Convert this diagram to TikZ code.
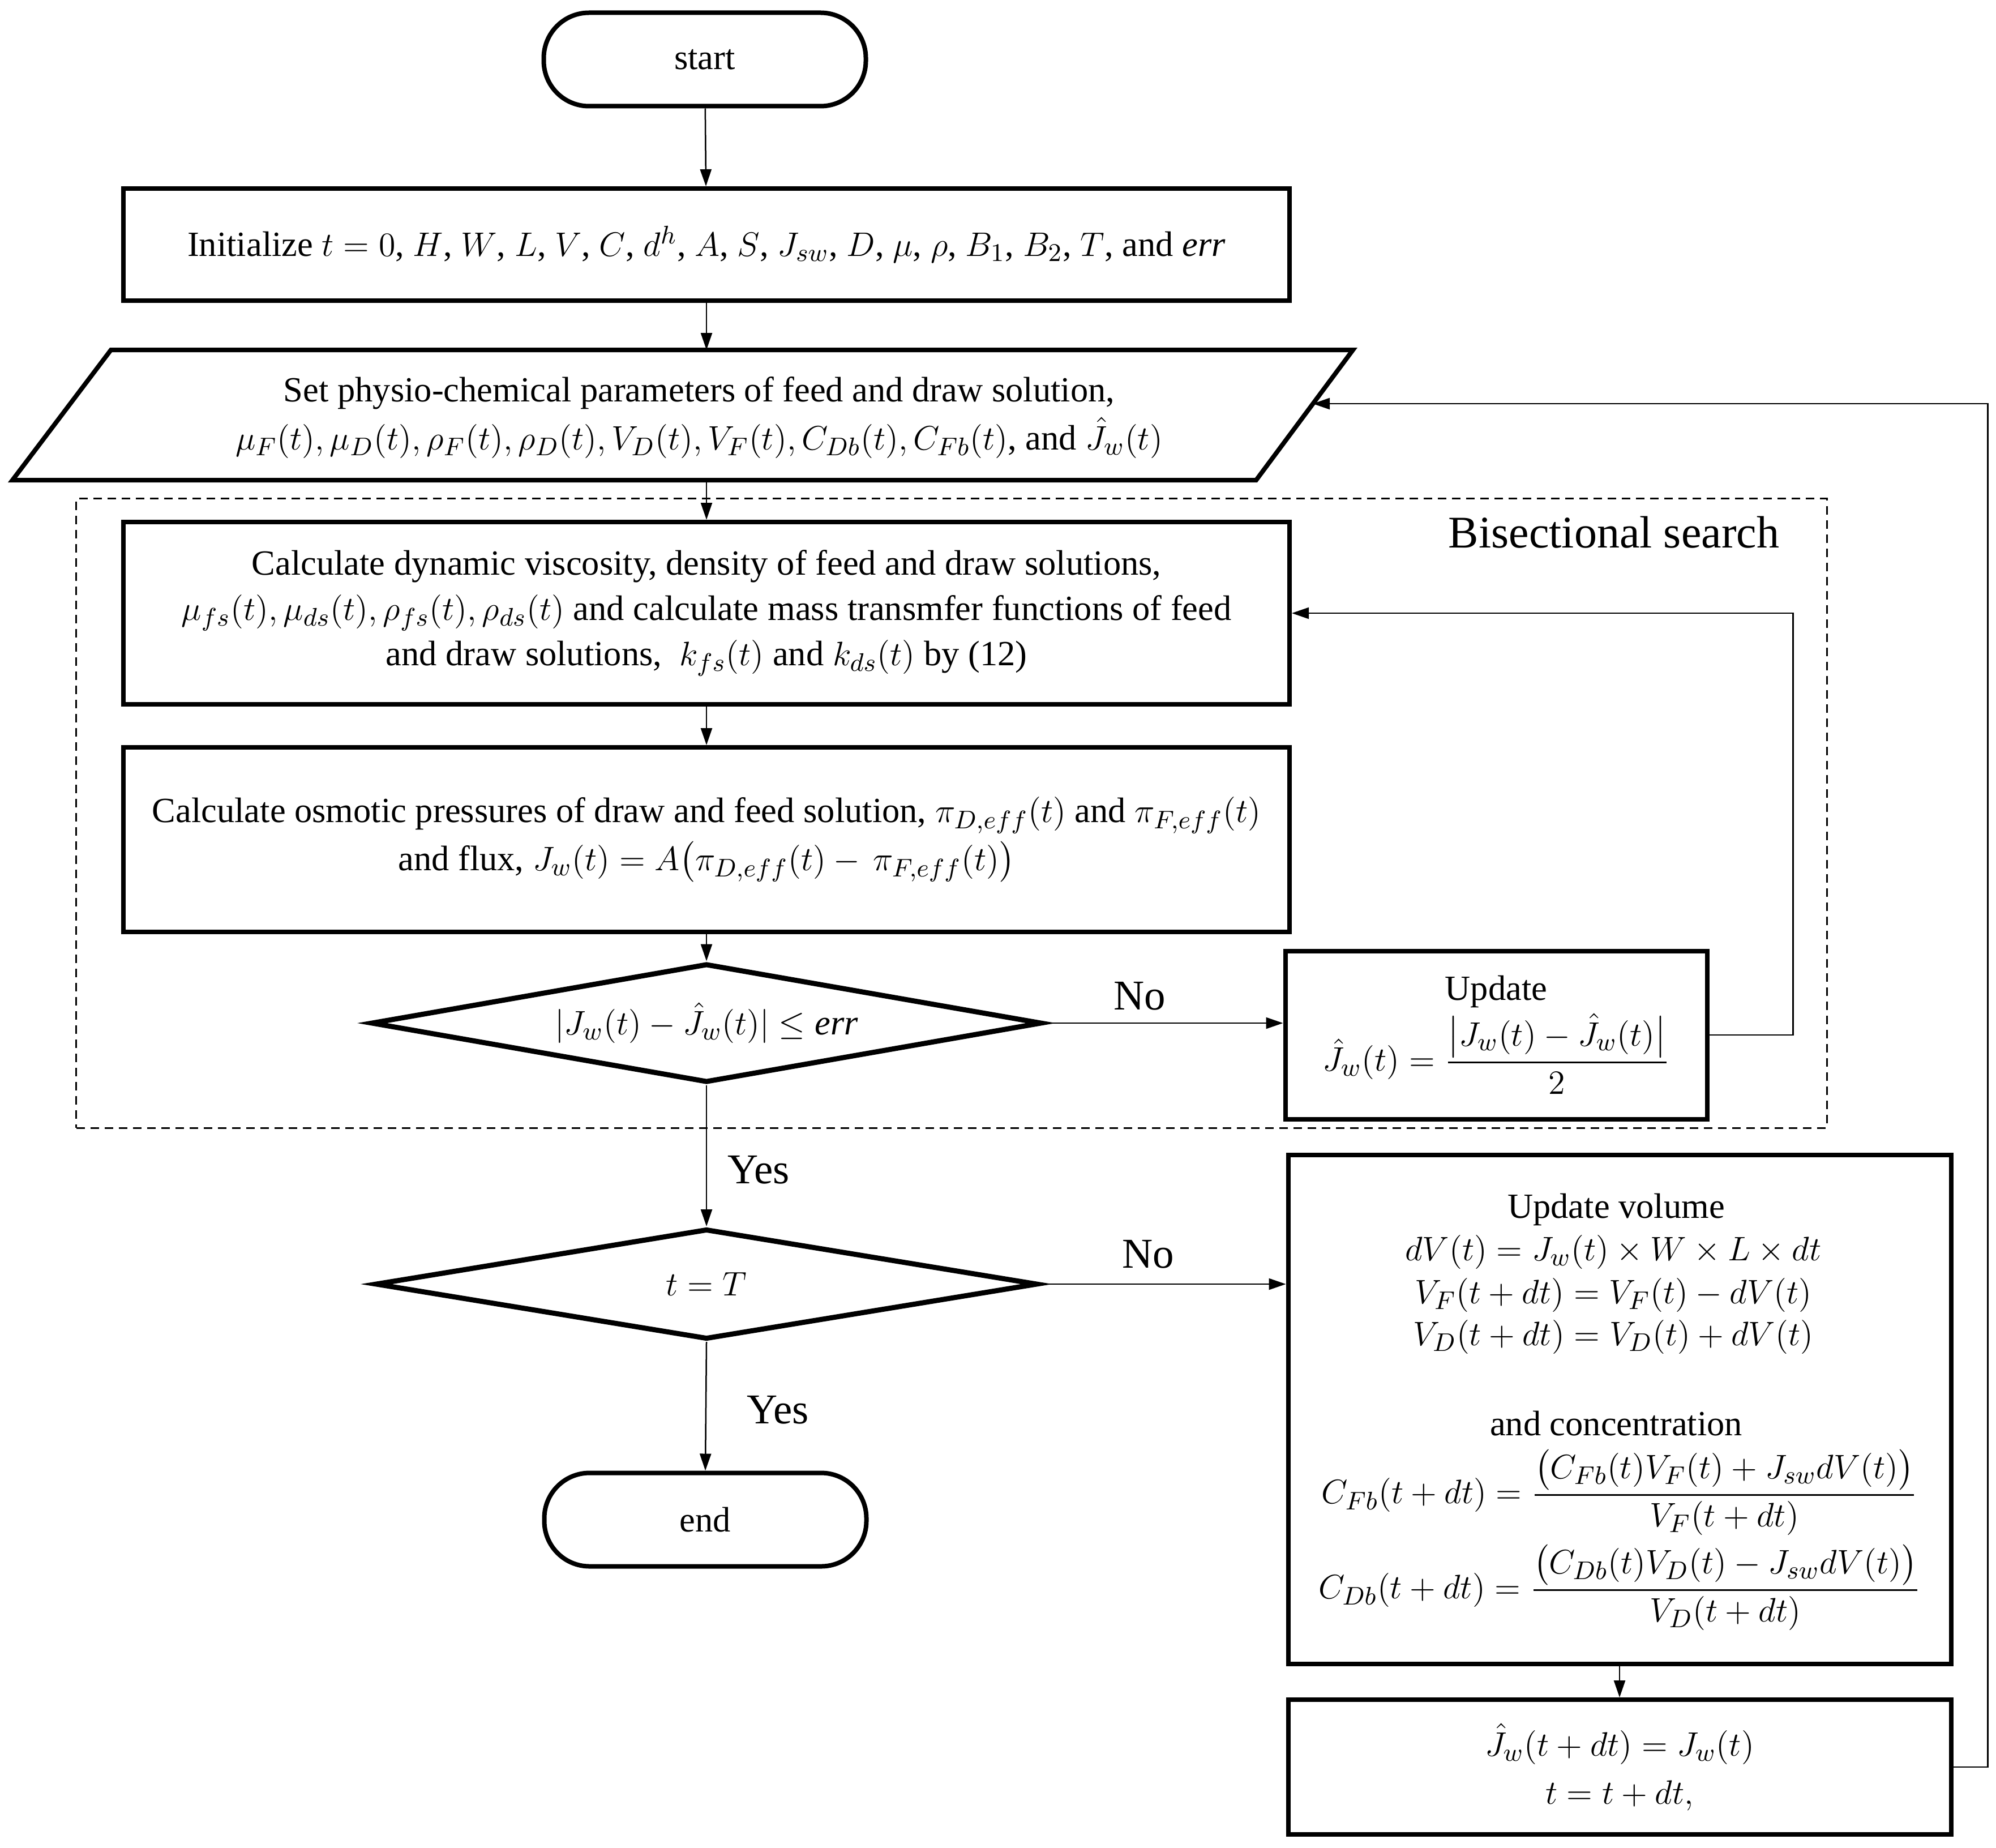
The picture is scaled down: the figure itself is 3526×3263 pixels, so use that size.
\documentclass[tikz,border=0pt]{standalone}
\usepackage{amsmath}
\usepackage{fontspec}
\setmainfont{Liberation Serif}
\usetikzlibrary{arrows.meta,shapes.geometric}
\tikzset{
  box/.style={draw, line width=1.6pt, fill=white, align=center, inner sep=2pt},
  term/.style={draw, line width=1.6pt, rounded corners=16pt, align=center, inner sep=0pt},
  dec/.style={draw, diamond, line width=1.8pt, aspect=5, inner sep=0pt, align=center},
  arr/.style={-{Triangle[length=6pt,width=4pt]}, line width=0.5pt},
  lbl/.style={font=\fontsize{15}{18}\selectfont},
  frame/.style={draw, dashed, dash pattern=on 3pt off 2pt, line width=0.6pt, inner sep=0pt},
}
\begin{document}
\begin{tikzpicture}[x=0.2pt,y=-0.2pt, font=\fontsize{12.5}{16}\selectfont]
\useasboundingbox (0,0) rectangle (3526,3263);

% dashed frame
\node[frame, minimum width=618.4pt, minimum height=222.2pt] (bis) at (1681,1436.5) {};
\node[font=\fontsize{16}{19}\selectfont] (bistext) at (2851,940) {Bisectional search};

\node[term, minimum width=113.8pt, minimum height=33pt] (start) at (1245,105) {start};

\node[box, minimum width=412pt, minimum height=39.6pt] (init) at (1248,432)
  {Initialize $t=0$, $H$, $W$, $L$, $V$, $C$, $d^h$, $A$, $S$, $J_{sw}$, $D$, $\mu$, $\rho$, $B_1$, $B_2$, $T$, and \textit{err}};

% parallelogram
\draw[line width=1.6pt] (196,618) -- (2390,618) -- (2219,848) -- (22,848) -- cycle;
\coordinate (parT) at (1248,618);
\coordinate (parB) at (1248,848);
\coordinate (parR) at (2319,713);
\node[align=center] (par) at (1235,737)
  {Set physio-chemical parameters of feed and draw solution,\\[1pt]
   $\mu_F(t),\mu_D(t),\rho_F(t),\rho_D(t),V_D(t),V_F(t),C_{Db}(t),C_{Fb}(t)$, and $\hat{J}_w(t)$};

\node[box, minimum width=412pt, minimum height=64.4pt] (calc1) at (1248,1083)
  {Calculate dynamic viscosity, density of feed and draw solutions,\\
   $\mu_{fs}(t),\mu_{ds}(t),\rho_{fs}(t),\rho_{ds}(t)$ and calculate mass transmfer functions of feed\\
   and draw solutions, \ $k_{fs}(t)$ and $k_{ds}(t)$ by (12)};

\node[box, minimum width=412pt, minimum height=65.2pt] (calc2) at (1248,1483)
  {Calculate osmotic pressures of draw and feed solution, $\pi_{D,eff}(t)$ and $\pi_{F,eff}(t)$\\[1pt]
   and flux, $J_w(t)=A\big(\pi_{D,eff}(t)-\,\pi_{F,eff}(t)\big)$};

\node[dec, minimum width=237pt, minimum height=42pt] (d1) at (1248,1807)
  {$|J_w(t)-\hat{J}_w(t)|\le \mathit{err}$};

\node[box, minimum width=149pt, minimum height=59.4pt] (upd) at (2643,1828)
  {Update\\[1pt] $\hat{J}_w(t)=\dfrac{\big|J_w(t)-\hat{J}_w(t)\big|}{2}$};

\node[dec, minimum width=234pt, minimum height=39pt] (d2) at (1248,2268) {$t=T$};

\node[term, minimum width=113.8pt, minimum height=33pt] (end) at (1246,2684) {end};

\node[box, minimum width=234.2pt, minimum height=179.8pt] (big) at (2861,2489) {};
\node (bt1) at (2855,2136) {Update volume};
\node (bt2) at (2850,2211) {$dV(t)=J_w(t)\times W\times L\times dt$};
\node (bt3) at (2850,2287) {$V_F(t+dt)=V_F(t)-dV(t)$};
\node (bt4) at (2850,2361) {$V_D(t+dt)=V_D(t)+dV(t)$};
\node (bt5) at (2855,2514) {and concentration};
\node (bt6) at (2861,2636) {$C_{Fb}(t+dt)=\dfrac{\big(C_{Fb}(t)V_F(t)+J_{sw}dV(t)\big)}{V_F(t+dt)}$};
\node (bt7) at (2861,2804) {$C_{Db}(t+dt)=\dfrac{\big(C_{Db}(t)V_D(t)-J_{sw}dV(t)\big)}{V_D(t+dt)}$};

\node[box, minimum width=234.2pt, minimum height=47.6pt] (last) at (2861,3121)
  {$\hat{J}_w(t+dt)=J_w(t)$\\[1pt] $t=t+dt,$};

% connectors
\draw[arr] (start) -- (init);
\draw[arr] (init) -- (parT);
\draw[arr] (parB) -- (calc1);
\draw[arr] (calc1) -- (calc2);
\draw[arr] (calc2) -- (d1);
\draw[arr] (d1.east) -- node[lbl, pos=0.4, above=1pt] {No} (d1.east -| upd.west);
\draw[arr] (upd.east) -- ++(148,0) |- (calc1.east);
\draw[arr] (d1.south) -- node[lbl, pos=0.6, right=4pt] {Yes} (d2.north);
\draw[arr] (d2.east) -- node[lbl, pos=0.44, above=2pt] {No} (d2.east -| big.west);
\draw[arr] (d2.south) -- node[lbl, pos=0.53, right=11pt] {Yes} (end.north);
\draw[arr] (big.south) -- (last.north);
\draw[arr] (last.east) -- ++(61,0) |- (parR);
\end{tikzpicture}
\end{document}
